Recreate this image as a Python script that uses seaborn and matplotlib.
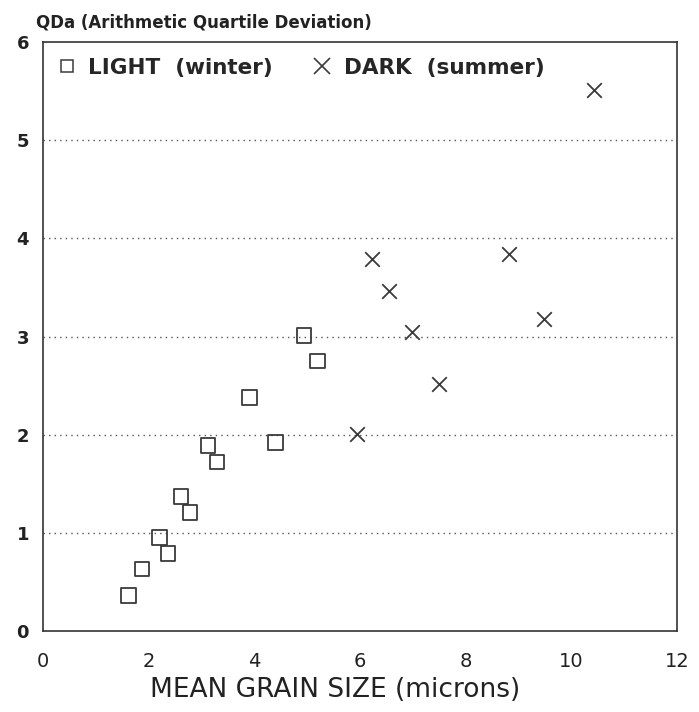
import matplotlib
matplotlib.use("Agg")
import matplotlib.pyplot as plt
import seaborn as sns
import pandas as pd
from matplotlib.lines import Line2D

light_x = [1.62, 1.87, 2.21, 2.37, 2.61, 2.78, 3.12, 3.29, 3.91, 4.40, 4.94, 5.20]
light_y = [0.36, 0.63, 0.95, 0.79, 1.37, 1.21, 1.89, 1.72, 2.38, 1.92, 3.01, 2.75]
dark_x = [5.95, 6.22, 6.55, 6.98, 7.50, 8.82, 9.49, 10.43]
dark_y = [2.01, 3.79, 3.46, 3.05, 2.52, 3.84, 3.18, 5.51]
x_ticks = [0, 2, 4, 6, 8, 10, 12]
y_ticks = [0, 1, 2, 3, 4, 5, 6]

sns.set_style("white")
plt.rcParams['font.family'] = ['DejaVu Sans']

fig = plt.figure(figsize=(6.99, 7.12), dpi=100)
ax = fig.add_axes([43/699, 1-631/712, (677-43)/699, (631-42)/712])

ink = "#3a3a3a"
light = pd.DataFrame({"x": light_x, "y": light_y})
dark = pd.DataFrame({"x": dark_x, "y": dark_y})
sns.scatterplot(data=light, x="x", y="y", marker="s", s=110, facecolor="none",
                edgecolor=ink, linewidth=1.3, ax=ax, zorder=3)
sns.scatterplot(data=dark, x="x", y="y", marker="x", s=110, color=ink,
                linewidth=1.3, ax=ax, zorder=3)

ax.set_xlim(0, 12)
ax.set_ylim(0, 6)
ax.set_xticks(x_ticks)
ax.set_yticks(y_ticks)
ax.set_xticklabels([str(t) for t in x_ticks], fontsize=14, color="#222")
ax.set_yticklabels([str(t) for t in y_ticks], fontsize=13, fontweight="bold", color="#222")
ax.tick_params(axis="x", direction="in", length=7, width=1, pad=15, color="#444")
ax.tick_params(axis="y", direction="in", length=5, width=1, pad=10, color="#444")
for t in [1, 2, 3, 4, 5]:
    ax.axhline(t, color="#555", linestyle=(0, (1, 3)), linewidth=1.0, zorder=1)
for sp in ax.spines.values():
    sp.set_color("#333")
    sp.set_linewidth(1.2)

ax.set_xlabel("MEAN GRAIN SIZE (microns)", fontsize=19, color="#222", labelpad=4)
ax.xaxis.set_label_coords((335-43)/634, -0.078)
ax.set_ylabel("")

fig.text(36/699, 1-28/712, "QDa (Arithmetic Quartile Deviation)", fontsize=12,
         fontweight="bold", color="#222", va="baseline", ha="left")

handles = [Line2D([], [], marker="s", linestyle="none", markerfacecolor="none",
                  markeredgecolor=ink, markersize=8, markeredgewidth=1.1),
           Line2D([], [], marker="x", linestyle="none", color=ink,
                  markersize=12, markeredgewidth=1.2)]
ax.legend(handles, ["LIGHT  (winter)", "DARK  (summer)"], ncol=2, loc="upper left",
          frameon=False, prop={"size": 15.5, "weight": "bold"}, handletextpad=0.5,
          columnspacing=1.8, borderaxespad=0.2, handlelength=1.0,
          bbox_to_anchor=(0.0, 0.995))

fig.savefig("out.png", dpi=100)
